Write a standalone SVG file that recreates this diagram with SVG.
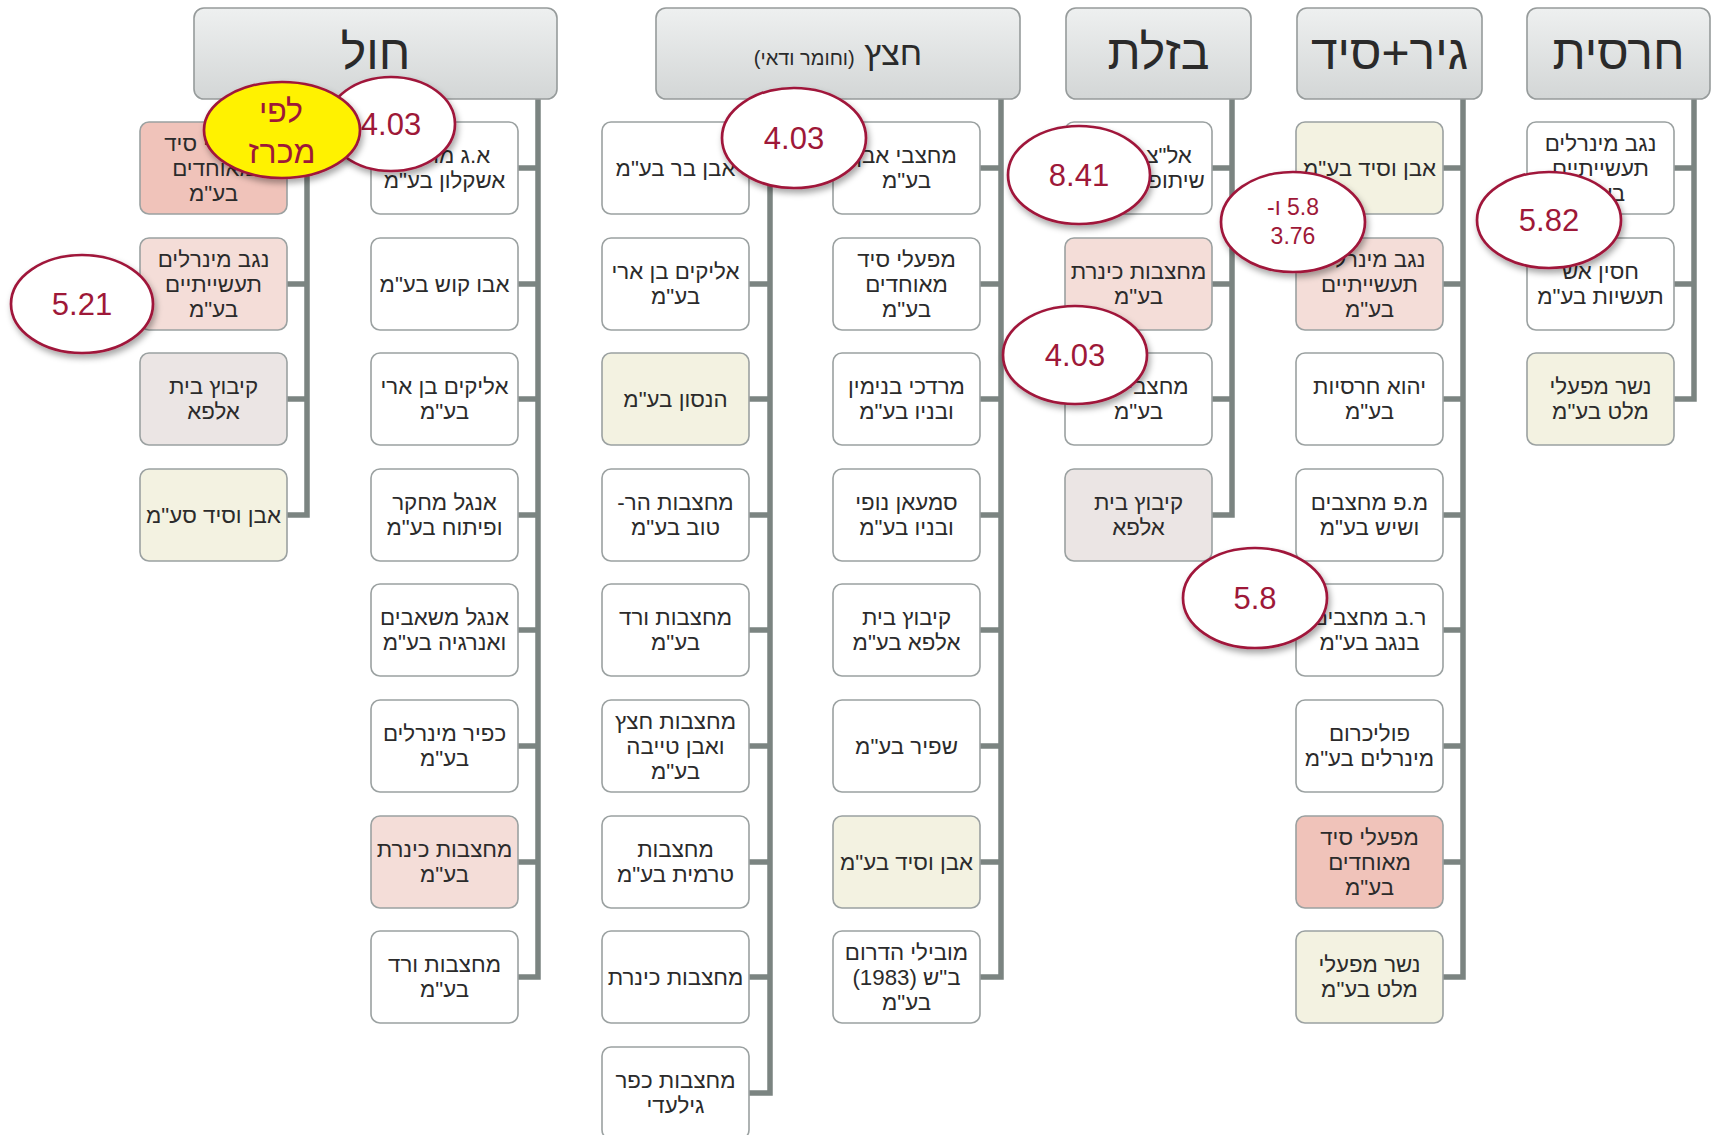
<svg xmlns="http://www.w3.org/2000/svg" width="1712" height="1135" viewBox="0 0 1712 1135">
<style>
.n{stroke:#9ba1a1;stroke-width:1.6}
.w{fill:#ffffff}.s{fill:#f0c3ba}.p{fill:#f4ddd8}.g{fill:#ebe5e4}.y{fill:#f3f2e1}
.t{font-family:"Liberation Sans","DejaVu Sans",sans-serif;font-size:22.3px;fill:#2b2b2b;text-anchor:middle;direction:rtl}
.hd{fill:url(#hg);stroke:#969b9b;stroke-width:1.6}
.ht{font-family:"Liberation Sans","DejaVu Sans",sans-serif;font-size:48px;fill:#2a2a2a;text-anchor:middle;direction:rtl}
.c{fill:none;stroke:#7b8481;stroke-width:5.5}
.e{fill:#ffffff;stroke:#a0183b;stroke-width:2.7;filter:url(#sh)}
.ey{fill:#fff200;stroke:#a0183b;stroke-width:2.7;filter:url(#sh)}
.et{font-family:"Liberation Sans","DejaVu Sans",sans-serif;font-size:31px;fill:#9e1838;text-anchor:middle;direction:rtl}
</style>
<defs>
<linearGradient id="hg" x1="0" y1="0" x2="0" y2="1">
<stop offset="0" stop-color="#eef0f0"/>
<stop offset="1" stop-color="#d3d6d6"/>
</linearGradient>
<filter id="sh" x="-20%" y="-20%" width="150%" height="160%">
<feDropShadow dx="2" dy="4" stdDeviation="3" flood-color="#000" flood-opacity="0.35"/>
</filter>
</defs>

<g id="connectors">
<path class="c" d="M307 99V515H287M287 168H307M287 284H307M287 399H307"/>
<path class="c" d="M538 99V977H518M518 168H538M518 284H538M518 399H538M518 515H538M518 630H538M518 746H538M518 862H538"/>
<path class="c" d="M770 99V1093H749M749 168H770M749 284H770M749 399H770M749 515H770M749 630H770M749 746H770M749 862H770M749 977H770"/>
<path class="c" d="M1001 99V977H980M980 168H1001M980 284H1001M980 399H1001M980 515H1001M980 630H1001M980 746H1001M980 862H1001"/>
<path class="c" d="M1232 99V515H1212M1212 168H1232M1212 284H1232M1212 399H1232"/>
<path class="c" d="M1463 99V977H1443M1443 168H1463M1443 284H1463M1443 399H1463M1443 515H1463M1443 630H1463M1443 746H1463M1443 862H1463"/>
<path class="c" d="M1694 99V399H1674M1674 168H1694M1674 284H1694"/>
</g>

<g id="h-chol"><rect class="hd" x="194" y="8" width="363" height="91" rx="10"/><text class="ht" x="375.5" y="69">חול</text></g>
<g id="h-hatzatz"><rect class="hd" x="656" y="8" width="364" height="91" rx="10"/><text class="ht" x="838" y="65" style="font-size:34px">חצץ <tspan style="font-size:20px">(וחומר ודאי)</tspan></text></g>
<g id="h-bazelet"><rect class="hd" x="1066" y="8" width="185" height="91" rx="10"/><text class="ht" x="1158.5" y="69">בזלת</text></g>
<g id="h-gir"><rect class="hd" x="1297" y="8" width="185" height="91" rx="10"/><text class="ht" x="1389.5" y="69">גיר+סיד</text></g>
<g id="h-harsit"><rect class="hd" x="1527" y="8" width="183" height="91" rx="10"/><text class="ht" x="1618.5" y="69">חרסית</text></g>

<!-- column A -->
<g id="a0"><rect class="n s" x="140" y="122" width="147" height="92" rx="9"/><text class="t"><tspan x="213.5" y="151">מפעלי סיד</tspan><tspan x="213.5" y="176">מאוחדים</tspan><tspan x="213.5" y="201">בע"מ</tspan></text></g>
<g id="a1"><rect class="n p" x="140" y="238" width="147" height="92" rx="9"/><text class="t"><tspan x="213.5" y="267">נגב מינרלים</tspan><tspan x="213.5" y="292">תעשייתיים</tspan><tspan x="213.5" y="317">בע"מ</tspan></text></g>
<g id="a2"><rect class="n g" x="140" y="353" width="147" height="92" rx="9"/><text class="t"><tspan x="213.5" y="394">קיבוץ בית</tspan><tspan x="213.5" y="419">אלפא</tspan></text></g>
<g id="a3"><rect class="n y" x="140" y="469" width="147" height="92" rx="9"/><text class="t" x="213.5" y="523">אבן וסיד סע"מ</text></g>

<!-- column B -->
<g id="b0"><rect class="n w" x="371" y="122" width="147" height="92" rx="9"/><text class="t"><tspan x="444.5" y="163">א.ג מוסאי</tspan><tspan x="444.5" y="188">אשקלון בע"מ</tspan></text></g>
<g id="b1"><rect class="n w" x="371" y="238" width="147" height="92" rx="9"/><text class="t" x="444.5" y="292">אבו קוש בע"מ</text></g>
<g id="b2"><rect class="n w" x="371" y="353" width="147" height="92" rx="9"/><text class="t"><tspan x="444.5" y="394">אליקים בן ארי</tspan><tspan x="444.5" y="419">בע"מ</tspan></text></g>
<g id="b3"><rect class="n w" x="371" y="469" width="147" height="92" rx="9"/><text class="t"><tspan x="444.5" y="510">אנגל מחקר</tspan><tspan x="444.5" y="535">ופיתוח בע"מ</tspan></text></g>
<g id="b4"><rect class="n w" x="371" y="584" width="147" height="92" rx="9"/><text class="t"><tspan x="444.5" y="625">אנגל משאבים</tspan><tspan x="444.5" y="650">ואנרגיה בע"מ</tspan></text></g>
<g id="b5"><rect class="n w" x="371" y="700" width="147" height="92" rx="9"/><text class="t"><tspan x="444.5" y="741">כפיר מינרלים</tspan><tspan x="444.5" y="766">בע"מ</tspan></text></g>
<g id="b6"><rect class="n p" x="371" y="816" width="147" height="92" rx="9"/><text class="t"><tspan x="444.5" y="857">מחצבות כינרת</tspan><tspan x="444.5" y="882">בע"מ</tspan></text></g>
<g id="b7"><rect class="n w" x="371" y="931" width="147" height="92" rx="9"/><text class="t"><tspan x="444.5" y="972">מחצבות ורד</tspan><tspan x="444.5" y="997">בע"מ</tspan></text></g>

<!-- column C -->
<g id="c0"><rect class="n w" x="602" y="122" width="147" height="92" rx="9"/><text class="t" x="675.5" y="176">אבן בר בע"מ</text></g>
<g id="c1"><rect class="n w" x="602" y="238" width="147" height="92" rx="9"/><text class="t"><tspan x="675.5" y="279">אליקים בן ארי</tspan><tspan x="675.5" y="304">בע"מ</tspan></text></g>
<g id="c2"><rect class="n y" x="602" y="353" width="147" height="92" rx="9"/><text class="t" x="675.5" y="407">הנסון בע"מ</text></g>
<g id="c3"><rect class="n w" x="602" y="469" width="147" height="92" rx="9"/><text class="t"><tspan x="675.5" y="510">מחצבות הר-</tspan><tspan x="675.5" y="535">טוב בע"מ</tspan></text></g>
<g id="c4"><rect class="n w" x="602" y="584" width="147" height="92" rx="9"/><text class="t"><tspan x="675.5" y="625">מחצבות ורד</tspan><tspan x="675.5" y="650">בע"מ</tspan></text></g>
<g id="c5"><rect class="n w" x="602" y="700" width="147" height="92" rx="9"/><text class="t"><tspan x="675.5" y="729">מחצבות חצץ</tspan><tspan x="675.5" y="754">ואבן טייבה</tspan><tspan x="675.5" y="779">בע"מ</tspan></text></g>
<g id="c6"><rect class="n w" x="602" y="816" width="147" height="92" rx="9"/><text class="t"><tspan x="675.5" y="857">מחצבות</tspan><tspan x="675.5" y="882">טרמית בע"מ</tspan></text></g>
<g id="c7"><rect class="n w" x="602" y="931" width="147" height="92" rx="9"/><text class="t" x="675.5" y="985">מחצבות כינרת</text></g>
<g id="c8"><rect class="n w" x="602" y="1047" width="147" height="92" rx="9"/><text class="t"><tspan x="675.5" y="1088">מחצבות כפר</tspan><tspan x="675.5" y="1113">גילעדי</tspan></text></g>

<!-- column D -->
<g id="d0"><rect class="n w" x="833" y="122" width="147" height="92" rx="9"/><text class="t"><tspan x="906.5" y="163">מחצבי אבן</tspan><tspan x="906.5" y="188">בע"מ</tspan></text></g>
<g id="d1"><rect class="n w" x="833" y="238" width="147" height="92" rx="9"/><text class="t"><tspan x="906.5" y="267">מפעלי סיד</tspan><tspan x="906.5" y="292">מאוחדים</tspan><tspan x="906.5" y="317">בע"מ</tspan></text></g>
<g id="d2"><rect class="n w" x="833" y="353" width="147" height="92" rx="9"/><text class="t"><tspan x="906.5" y="394">מרדכי בנימין</tspan><tspan x="906.5" y="419">ובניו בע"מ</tspan></text></g>
<g id="d3"><rect class="n w" x="833" y="469" width="147" height="92" rx="9"/><text class="t"><tspan x="906.5" y="510">סמעאן נופי</tspan><tspan x="906.5" y="535">ובניו בע"מ</tspan></text></g>
<g id="d4"><rect class="n w" x="833" y="584" width="147" height="92" rx="9"/><text class="t"><tspan x="906.5" y="625">קיבוץ בית</tspan><tspan x="906.5" y="650">אלפא בע"מ</tspan></text></g>
<g id="d5"><rect class="n w" x="833" y="700" width="147" height="92" rx="9"/><text class="t" x="906.5" y="754">שפיר בע"מ</text></g>
<g id="d6"><rect class="n y" x="833" y="816" width="147" height="92" rx="9"/><text class="t" x="906.5" y="870">אבן וסיד בע"מ</text></g>
<g id="d7"><rect class="n w" x="833" y="931" width="147" height="92" rx="9"/><text class="t"><tspan x="906.5" y="960">מובילי הדרום</tspan><tspan x="906.5" y="985">ב"ש (1983)</tspan><tspan x="906.5" y="1010">בע"מ</tspan></text></g>

<!-- column E -->
<g id="e0"><rect class="n w" x="1065" y="122" width="147" height="92" rx="9"/><text class="t"><tspan x="1138.5" y="163">אל"צ אגודה</tspan><tspan x="1138.5" y="188">שיתופית בע"מ</tspan></text></g>
<g id="e1"><rect class="n p" x="1065" y="238" width="147" height="92" rx="9"/><text class="t"><tspan x="1138.5" y="279">מחצבות כינרת</tspan><tspan x="1138.5" y="304">בע"מ</tspan></text></g>
<g id="e2"><rect class="n w" x="1065" y="353" width="147" height="92" rx="9"/><text class="t"><tspan x="1138.5" y="394">מחצבי גולן</tspan><tspan x="1138.5" y="419">בע"מ</tspan></text></g>
<g id="e3"><rect class="n g" x="1065" y="469" width="147" height="92" rx="9"/><text class="t"><tspan x="1138.5" y="510">קיבוץ בית</tspan><tspan x="1138.5" y="535">אלפא</tspan></text></g>

<!-- column F -->
<g id="f0"><rect class="n y" x="1296" y="122" width="147" height="92" rx="9"/><text class="t" x="1369.5" y="176">אבן וסיד בע"מ</text></g>
<g id="f1"><rect class="n p" x="1296" y="238" width="147" height="92" rx="9"/><text class="t"><tspan x="1369.5" y="267">נגב מינרלים</tspan><tspan x="1369.5" y="292">תעשייתיים</tspan><tspan x="1369.5" y="317">בע"מ</tspan></text></g>
<g id="f2"><rect class="n w" x="1296" y="353" width="147" height="92" rx="9"/><text class="t"><tspan x="1369.5" y="394">יהוא חרסיות</tspan><tspan x="1369.5" y="419">בע"מ</tspan></text></g>
<g id="f3"><rect class="n w" x="1296" y="469" width="147" height="92" rx="9"/><text class="t"><tspan x="1369.5" y="510">מ.פ מחצבים</tspan><tspan x="1369.5" y="535">ושיש בע"מ</tspan></text></g>
<g id="f4"><rect class="n w" x="1296" y="584" width="147" height="92" rx="9"/><text class="t"><tspan x="1369.5" y="625">ר.ב מחצבים</tspan><tspan x="1369.5" y="650">בנגב בע"מ</tspan></text></g>
<g id="f5"><rect class="n w" x="1296" y="700" width="147" height="92" rx="9"/><text class="t"><tspan x="1369.5" y="741">פוליכרום</tspan><tspan x="1369.5" y="766">מינרלים בע"מ</tspan></text></g>
<g id="f6"><rect class="n s" x="1296" y="816" width="147" height="92" rx="9"/><text class="t"><tspan x="1369.5" y="845">מפעלי סיד</tspan><tspan x="1369.5" y="870">מאוחדים</tspan><tspan x="1369.5" y="895">בע"מ</tspan></text></g>
<g id="f7"><rect class="n y" x="1296" y="931" width="147" height="92" rx="9"/><text class="t"><tspan x="1369.5" y="972">נשר מפעלי</tspan><tspan x="1369.5" y="997">מלט בע"מ</tspan></text></g>

<!-- column G -->
<g id="g0"><rect class="n w" x="1527" y="122" width="147" height="92" rx="9"/><text class="t"><tspan x="1600.5" y="151">נגב מינרלים</tspan><tspan x="1600.5" y="176">תעשייתיים</tspan><tspan x="1600.5" y="201">בע"מ</tspan></text></g>
<g id="g1"><rect class="n w" x="1527" y="238" width="147" height="92" rx="9"/><text class="t"><tspan x="1600.5" y="279">חסין אש</tspan><tspan x="1600.5" y="304">תעשיות בע"מ</tspan></text></g>
<g id="g2"><rect class="n y" x="1527" y="353" width="147" height="92" rx="9"/><text class="t"><tspan x="1600.5" y="394">נשר מפעלי</tspan><tspan x="1600.5" y="419">מלט בע"מ</tspan></text></g>

<!-- callouts -->
<g id="o-403a"><ellipse class="e" cx="391" cy="124" rx="64" ry="47"/><text class="et" x="391" y="135">4.03</text></g>
<g id="o-lefi"><ellipse class="ey" cx="282" cy="130" rx="78" ry="48"/><text class="et" style="font-size:32px"><tspan x="281" y="122">לפי</tspan><tspan x="282" y="163">מכרז</tspan></text></g>
<g id="o-521"><ellipse class="e" cx="82" cy="304" rx="71" ry="49"/><text class="et" x="82" y="315">5.21</text></g>
<g id="o-403b"><ellipse class="e" cx="794" cy="138" rx="72" ry="50"/><text class="et" x="794" y="149">4.03</text></g>
<g id="o-841"><ellipse class="e" cx="1079" cy="175" rx="71" ry="49"/><text class="et" x="1079" y="186">8.41</text></g>
<g id="o-58376"><ellipse class="e" cx="1293" cy="222" rx="72" ry="50"/><text class="et" style="font-size:23px"><tspan x="1293" y="215">5.8 ו-</tspan><tspan x="1293" y="244">3.76</tspan></text></g>
<g id="o-582"><ellipse class="e" cx="1549" cy="220" rx="72" ry="48"/><text class="et" x="1549" y="231">5.82</text></g>
<g id="o-403c"><ellipse class="e" cx="1075" cy="355" rx="72" ry="49"/><text class="et" x="1075" y="366">4.03</text></g>
<g id="o-58"><ellipse class="e" cx="1255" cy="598" rx="72" ry="50"/><text class="et" x="1255" y="609">5.8</text></g>
</svg>
